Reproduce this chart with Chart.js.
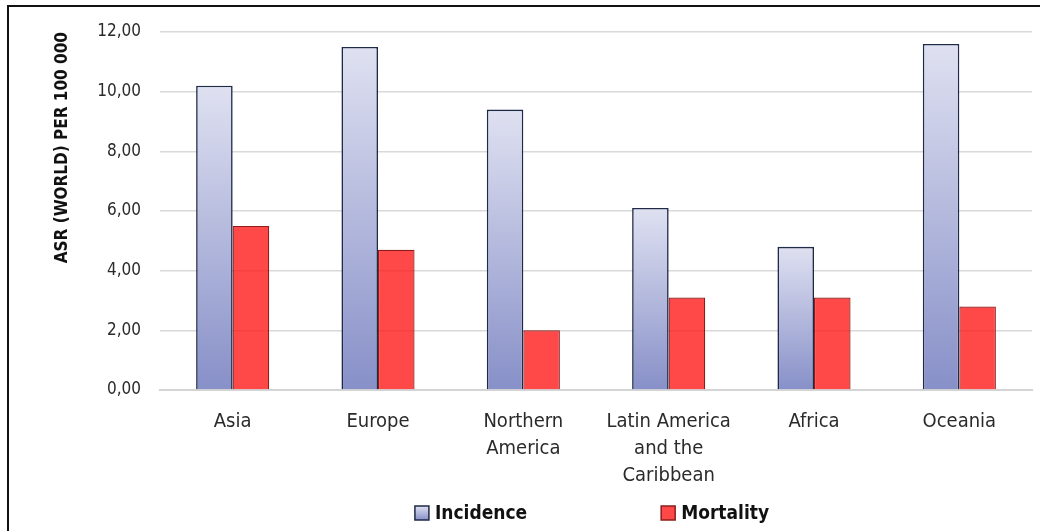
<!DOCTYPE html>
<html>
<head>
<meta charset="utf-8">
<script src="https://cdn.jsdelivr.net/npm/chart.js@4"></script>
<style>
  html, body { margin: 0; padding: 0; background: #ffffff; }
  #wrap { position: relative; width: 1040px; height: 531px; overflow: hidden; }
  #frameTop { position: absolute; left: 7px; top: 5px; width: 1040px; height: 2px; background: #111; }
  #frameLeft { position: absolute; left: 7px; top: 5px; width: 2px; height: 540px; background: #111; }
  canvas { display: block; }
</style>
</head>
<body>
<div id="wrap">
  <canvas id="chart" width="1040" height="531"></canvas>
  <div id="frameTop"></div>
  <div id="frameLeft"></div>
</div>
<script>
// Regions (multi-line labels as arrays)
const regions = [
  'Asia',
  'Europe',
  ['Northern', 'America'],
  ['Latin America', 'and the', 'Caribbean'],
  'Africa',
  'Oceania'
];

// Age-standardised rates per 100 000
const incidence = [10.2, 11.5, 9.4, 6.1, 4.8, 11.6];
const mortality = [5.5, 4.7, 2.0, 3.1, 3.1, 2.8];

const seriesNames = ['Incidence', 'Mortality'];
const axisTitle = 'ASR (WORLD) PER 100 000';

const FONT = "'DejaVu Sans Condensed', 'Liberation Sans Narrow', Roboto, sans-serif";

// vertical gradient running from the top of each bar down to the baseline
function barGradient(ctx) {
  const chart = ctx.chart;
  if (!chart.chartArea || ctx.raw === undefined) return '#b8bde0';
  const y = chart.scales.y;
  const top = y.getPixelForValue(ctx.raw);
  const bottom = y.getPixelForValue(0);
  const g = chart.ctx.createLinearGradient(0, top, 0, bottom);
  g.addColorStop(0, '#dfe1f1');
  g.addColorStop(1, '#8790c8');
  return g;
}

// legend drawn beneath the plot, centred on the plot area
const bottomLegend = {
  id: 'bottomLegend',
  afterDraw(chart) {
    const c = chart.ctx;
    const area = chart.chartArea;
    const box = 14, gapText = 6, gapItems = 134;
    c.save();
    c.font = 'bold 19px ' + FONT;
    c.textBaseline = 'middle';
    const items = chart.data.datasets.map(ds => ({
      label: ds.label, w: c.measureText(ds.label).width, ds
    }));
    const total = items.reduce((s, it) => s + box + gapText + it.w, 0) + gapItems * (items.length - 1);
    let x = (area.left + area.right) / 2 - total / 2 - 4;
    const yMid = 513;
    items.forEach((it, i) => {
      let fill;
      if (i === 0) {
        fill = c.createLinearGradient(0, yMid - box / 2, 0, yMid + box / 2);
        fill.addColorStop(0, '#dfe1f1');
        fill.addColorStop(1, '#8790c8');
      } else {
        fill = it.ds.legendFill;
      }
      c.fillStyle = fill;
      c.fillRect(x, yMid - box / 2, box, box);
      c.lineWidth = 1.5;
      c.strokeStyle = it.ds.borderColor;
      c.strokeRect(x, yMid - box / 2, box, box);
      x += box + gapText;
      c.fillStyle = '#111111';
      c.textAlign = 'left';
      c.fillText(it.label, x, yMid + 1);
      x += it.w + gapItems;
    });
    c.restore();
  }
};

new Chart(document.getElementById('chart'), {
  type: 'bar',
  data: {
    labels: regions,
    datasets: [
      {
        label: seriesNames[0],
        data: incidence,
        backgroundColor: barGradient,
        borderColor: '#1e2a48',
        borderWidth: 1.6,
        borderSkipped: 'bottom'
      },
      {
        label: seriesNames[1],
        data: mortality,
        backgroundColor: 'rgba(255, 22, 22, 0.78)',
        legendFill: 'rgba(255, 22, 22, 0.78)',
        borderColor: '#8e1c1c',
        borderWidth: 1.2,
        borderSkipped: 'bottom'
      }
    ]
  },
  options: {
    responsive: false,
    animation: false,
    layout: { padding: { left: 8, right: 8, top: 32, bottom: 0 } },
    categoryPercentage: 0.503,
    barPercentage: 1.0,
    plugins: {
      legend: { display: false },
      tooltip: { enabled: false }
    },
    scales: {
      x: {
        grid: { display: false, drawTicks: false },
        border: { display: true, color: '#d4d4d4', width: 2 },
        ticks: {
          color: '#2a2a2a',
          font: { family: FONT, size: 20, lineHeight: 1.35 },
          padding: 18,
          maxRotation: 0,
          autoSkip: false
        },
        afterFit(scale) { scale.height = 141; }
      },
      y: {
        min: 0,
        max: 12,
        ticks: {
          stepSize: 2,
          color: '#2a2a2a',
          font: { family: FONT, size: 17 },
          padding: 19,
          callback: v => v.toFixed(2).replace('.', ',')
        },
        grid: { color: '#d9d9d9', lineWidth: 1.5, drawTicks: false },
        border: { display: false },
        title: {
          display: true,
          text: axisTitle,
          align: 'end',
          color: '#111111',
          font: { family: FONT, size: 17, weight: 'bold' },
          padding: { top: 44, bottom: 0 }
        },
        afterFit(scale) { scale.width = 152; }
      }
    }
  },
  plugins: [bottomLegend]
});
</script>
</body>
</html>
